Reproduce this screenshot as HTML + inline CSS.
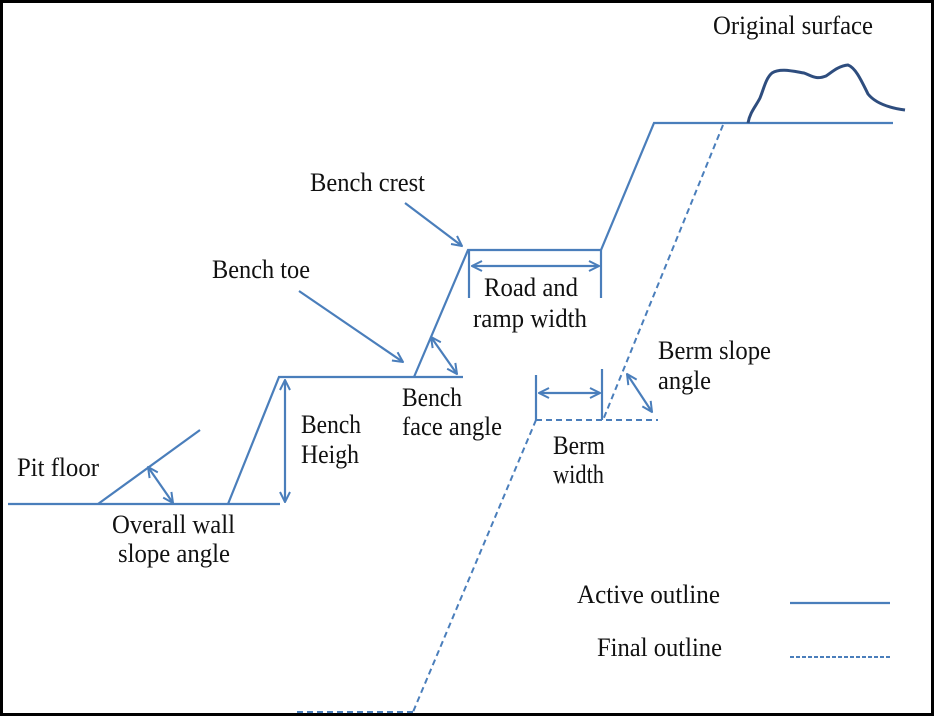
<!DOCTYPE html>
<html><head><meta charset="utf-8"><style>
html,body{margin:0;padding:0;background:#fff;}
svg{display:block;}
text{font-family:"Liberation Serif",serif;font-size:26px;fill:#111;}
</style></head><body>
<svg width="936" height="717" viewBox="0 0 936 717" xmlns="http://www.w3.org/2000/svg">
<defs>
<marker id="a" viewBox="0 0 12 12" refX="11" refY="6" markerWidth="12" markerHeight="12" markerUnits="userSpaceOnUse" orient="auto-start-reverse">
<path d="M1,1 L11,6 L1,11" fill="none" stroke="#4a7ebb" stroke-width="2"/>
</marker>
</defs>
<rect x="1.5" y="1.5" width="931" height="713" fill="#fff" stroke="#000" stroke-width="3"/>
<g stroke="#4a7ebb" stroke-width="2.2" fill="none">
<polyline points="8,504 280,504"/>
<line x1="98" y1="504" x2="200" y2="430"/>
<line x1="148" y1="467" x2="173" y2="503" marker-start="url(#a)" marker-end="url(#a)"/>
<polyline points="228,504 279,377 463,377"/>
<line x1="285" y1="380" x2="285" y2="502" marker-start="url(#a)" marker-end="url(#a)"/>
<polyline points="414,377 468,250 601,250 654,123 893,123"/>
<line x1="431" y1="337" x2="457" y2="374" marker-start="url(#a)" marker-end="url(#a)"/>
<line x1="299" y1="291" x2="403" y2="362" marker-end="url(#a)"/>
<line x1="405" y1="203" x2="462" y2="246" marker-end="url(#a)"/>
<line x1="469" y1="250" x2="469" y2="298"/>
<line x1="601" y1="250" x2="601" y2="298"/>
<line x1="472" y1="266" x2="599" y2="266" marker-start="url(#a)" marker-end="url(#a)"/>
<line x1="536" y1="375" x2="536" y2="420"/>
<line x1="602" y1="369" x2="602" y2="420"/>
<line x1="539" y1="393" x2="600" y2="393" marker-start="url(#a)" marker-end="url(#a)"/>
<line x1="627" y1="374" x2="652" y2="412" marker-start="url(#a)" marker-end="url(#a)"/>
<line x1="790" y1="603" x2="890" y2="603"/>
</g>
<g stroke="#4a7ebb" stroke-width="2" fill="none" stroke-dasharray="6,4">
<polyline points="723,125 603,420"/>
<polyline points="536,420 658,420"/>
<polyline points="536,420 413,712"/>
<polyline points="297,712 413,712"/>
<line x1="790" y1="657" x2="890" y2="657" stroke-dasharray="4,2"/>
</g>
<path d="M748,123 C750,112 756,106 760,98 C764,88 766,78 772,73 C780,68 792,71 804,73 C812,76 816,80 826,76 C832,72 838,66 848,65 C856,68 862,82 868,94 C876,104 890,108 905,110" fill="none" stroke="#2e4d7e" stroke-width="3"/>
<text x="713" y="34" textLength="160" lengthAdjust="spacingAndGlyphs">Original surface</text>
<text x="310" y="191" textLength="115" lengthAdjust="spacingAndGlyphs">Bench crest</text>
<text x="212" y="278" textLength="98" lengthAdjust="spacingAndGlyphs">Bench toe</text>
<text x="484" y="296" textLength="94" lengthAdjust="spacingAndGlyphs">Road and</text>
<text x="473" y="327" textLength="114" lengthAdjust="spacingAndGlyphs">ramp width</text>
<text x="658" y="359" textLength="113" lengthAdjust="spacingAndGlyphs">Berm slope</text>
<text x="658" y="389" textLength="53" lengthAdjust="spacingAndGlyphs">angle</text>
<text x="402" y="406" textLength="60" lengthAdjust="spacingAndGlyphs">Bench</text>
<text x="402" y="435" textLength="100" lengthAdjust="spacingAndGlyphs">face angle</text>
<text x="301" y="433" textLength="60" lengthAdjust="spacingAndGlyphs">Bench</text>
<text x="301" y="463" textLength="58" lengthAdjust="spacingAndGlyphs">Heigh</text>
<text x="553" y="454" textLength="52" lengthAdjust="spacingAndGlyphs">Berm</text>
<text x="553" y="483" textLength="51" lengthAdjust="spacingAndGlyphs">width</text>
<text x="17" y="476" textLength="82" lengthAdjust="spacingAndGlyphs">Pit floor</text>
<text x="112" y="533" textLength="123" lengthAdjust="spacingAndGlyphs">Overall wall</text>
<text x="118" y="562" textLength="112" lengthAdjust="spacingAndGlyphs">slope angle</text>
<text x="577" y="603" textLength="143" lengthAdjust="spacingAndGlyphs">Active outline</text>
<text x="597" y="656" textLength="125" lengthAdjust="spacingAndGlyphs">Final outline</text>
</svg>
</body></html>
